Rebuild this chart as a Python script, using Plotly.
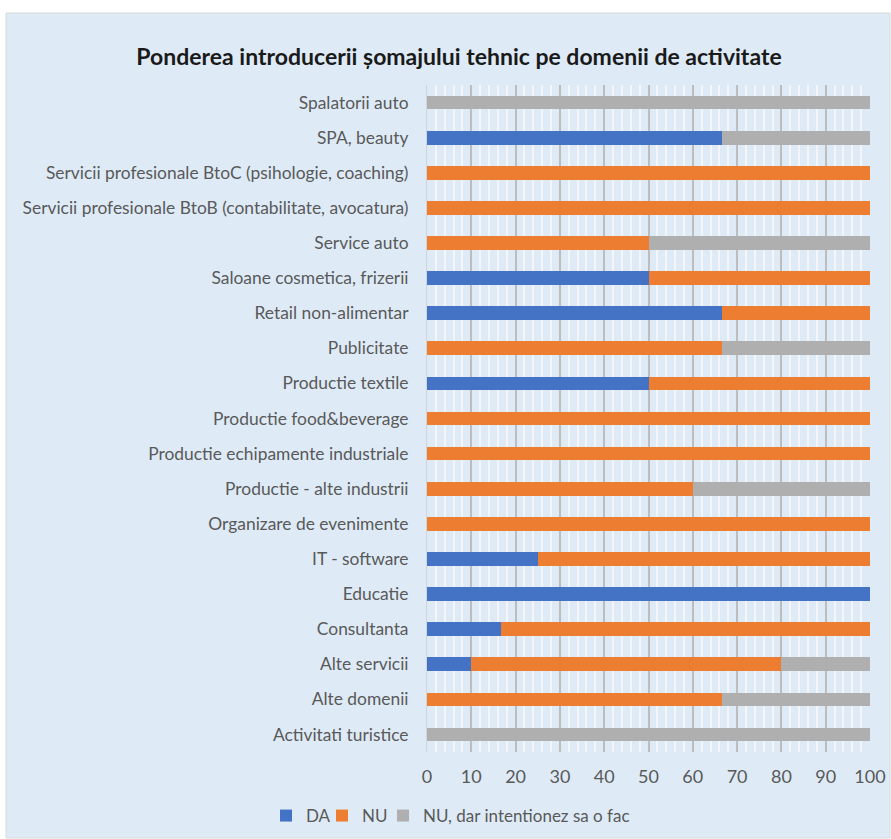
import plotly.graph_objects as go

# Domains, listed bottom to top as they appear on the y axis
categories = [
    "Activitati turistice",
    "Alte domenii",
    "Alte servicii",
    "Consultanta",
    "Educatie",
    "IT - software",
    "Organizare de evenimente",
    "Productie - alte industrii",
    "Productie echipamente industriale",
    "Productie food&beverage",
    "Productie textile",
    "Publicitate",
    "Retail non-alimentar",
    "Saloane cosmetica, frizerii",
    "Service auto",
    "Servicii profesionale BtoB (contabilitate, avocatura)",
    "Servicii profesionale BtoC (psihologie, coaching)",
    "SPA, beauty",
    "Spalatorii auto",
]

da = [0, 0, 10, 16.7, 100, 25, 0, 0, 0, 0, 50, 0, 66.7, 50, 0, 0, 0, 66.7, 0]
nu = [0, 66.7, 70, 83.3, 0, 75, 100, 60, 100, 100, 50, 66.7, 33.3, 50, 50, 100, 100, 0, 0]
nu_dar = [100, 33.3, 20, 0, 0, 0, 0, 40, 0, 0, 0, 33.3, 0, 0, 50, 0, 0, 33.3, 100]

x_ticks = [0, 10, 20, 30, 40, 50, 60, 70, 80, 90, 100]

# name, values, colour, legend box
series = [
    ("DA", da, "#4472C4", "legend"),
    ("NU", nu, "#ED7D31", "legend2"),
    ("NU, dar intentionez sa o fac", nu_dar, "#AFAFAF", "legend3"),
]

FONT = "Lato, 'Open Sans', sans-serif"
BG = "#DEEBF7"

fig = go.Figure()
for name, vals, color, leg in series:
    fig.add_trace(go.Bar(
        y=categories, x=vals, name=name, orientation="h",
        marker=dict(color=color, line=dict(width=0)),
        width=0.39, legend=leg, showlegend=True,
    ))

W, H = 891, 839
L, R, T, B = 427, 21, 85, 87
pw, ph = W - L - R, H - T - B

def px_x(p):
    return (p - L) / pw

def px_y(p):
    return (H - B - p) / ph

legend_style = dict(
    orientation="h", yanchor="middle", y=px_y(816), xanchor="left",
    font=dict(size=17, color="#595959"),
    bgcolor="rgba(0,0,0,0)", itemwidth=30, visible=True,
)

fig.update_layout(
    width=W, height=H,
    barmode="stack",
    showlegend=True,
    margin=dict(l=L, r=R, t=T, b=B, pad=0, autoexpand=False),
    paper_bgcolor="white",
    plot_bgcolor=BG,
    font=dict(family=FONT, color="#595959", size=17),
    title=dict(
        text="<b>Ponderea introducerii șomajului tehnic pe domenii de activitate</b>",
        x=459 / W, xref="container", xanchor="center",
        y=1 - 57 / H, yref="container", yanchor="middle",
        font=dict(family=FONT, size=23, color="#1A1A1A"),
    ),
    xaxis=dict(
        range=[0, 100], tickvals=x_ticks, ticks="",
        showgrid=True, gridcolor="#BDBDBD", gridwidth=2,
        minor=dict(dtick=2, showgrid=True, gridcolor="#F3F5F8", gridwidth=1.5),
        zeroline=False, showline=False,
        tickfont=dict(size=18, color="#595959"),
        ticklabelstandoff=12,
        automargin=False,
        fixedrange=True,
    ),
    yaxis=dict(
        categoryorder="array", categoryarray=categories,
        range=[-0.5, len(categories) - 0.5],
        ticks="", showgrid=False, zeroline=False,
        showline=True, linecolor="#D0D4D9", linewidth=1,
        tickfont=dict(size=17.4, color="#595959"),
        ticklabelstandoff=14,
        automargin=False,
        fixedrange=True,
    ),
    legend=dict(legend_style, x=px_x(266)),
    legend2=dict(legend_style, x=px_x(322)),
    legend3=dict(legend_style, x=px_x(383)),
    shapes=[dict(
        type="rect", xref="paper", yref="paper", layer="below",
        x0=px_x(6), x1=px_x(890), y0=px_y(838), y1=px_y(13),
        fillcolor=BG, line=dict(color="#D9D9D9", width=1),
    )],
)

fig.write_html("out.html")
